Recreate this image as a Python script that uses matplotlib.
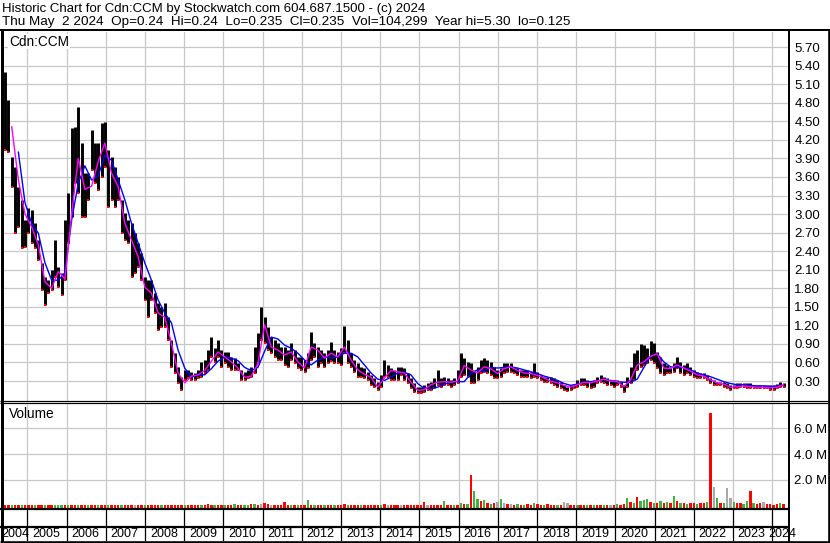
import matplotlib
matplotlib.use('Agg')
import matplotlib.pyplot as plt
import matplotlib.dates as mdates
from matplotlib.lines import Line2D
import pandas as pd

plt.rcParams['font.family'] = ['Liberation Sans', 'DejaVu Sans']

W, H = 830, 543

title1 = 'Historic Chart for Cdn:CCM by Stockwatch.com 604.687.1500 - (c) 2024'
title2 = 'Thu May  2 2024  Op=0.24  Hi=0.24  Lo=0.235  Cl=0.235  Vol=104,299  Year hi=5.30  lo=0.125'
symbol = 'Cdn:CCM'

# one bar per ~31 days
bar_start = '2004-06-07'
hi = [
    5.30, 4.85, 3.92, 3.76, 3.44, 3.23, 2.90, 3.10, 3.06, 2.85,
    2.58, 2.21, 1.98, 1.93, 2.09, 2.58, 2.14, 2.04, 2.90, 3.34,
    4.39, 4.41, 4.73, 4.15, 3.66, 3.66, 4.36, 4.15, 4.15, 4.47,
    4.49, 4.03, 3.92, 3.76, 3.60, 3.23, 3.02, 2.90, 2.85, 2.69,
    2.53, 2.37, 1.98, 1.93, 1.93, 1.72, 1.56, 1.50, 1.56, 1.33,
    0.96, 0.75, 0.53, 0.36, 0.48, 0.48, 0.45, 0.43, 0.48, 0.61,
    0.64, 0.80, 1.01, 0.83, 0.96, 0.80, 0.77, 0.77, 0.69, 0.67,
    0.59, 0.48, 0.45, 0.48, 0.53, 0.85, 1.08, 1.50, 1.33, 1.17,
    1.01, 0.96, 0.91, 0.85, 0.85, 0.80, 0.91, 0.80, 0.69, 0.69,
    0.64, 0.75, 1.09, 0.91, 0.85, 0.80, 0.75, 0.80, 0.93, 0.80,
    0.77, 0.83, 1.19, 0.96, 0.75, 0.64, 0.59, 0.53, 0.51, 0.45,
    0.40, 0.35, 0.28, 0.40, 0.64, 0.56, 0.51, 0.48, 0.53, 0.53,
    0.51, 0.43, 0.35, 0.27, 0.20, 0.20, 0.24, 0.27, 0.28, 0.35,
    0.48, 0.35, 0.36, 0.35, 0.32, 0.35, 0.48, 0.75, 0.67, 0.61,
    0.59, 0.48, 0.53, 0.64, 0.67, 0.64, 0.61, 0.53, 0.48, 0.51,
    0.59, 0.59, 0.59, 0.53, 0.51, 0.48, 0.48, 0.48, 0.45, 0.59,
    0.45, 0.40, 0.36, 0.36, 0.36, 0.35, 0.32, 0.28, 0.24, 0.20,
    0.24, 0.24, 0.32, 0.35, 0.35, 0.32, 0.28, 0.32, 0.36, 0.40,
    0.36, 0.35, 0.32, 0.32, 0.32, 0.28, 0.24, 0.36, 0.53, 0.75,
    0.80, 0.90, 0.88, 0.83, 0.95, 0.91, 0.77, 0.69, 0.59, 0.56,
    0.53, 0.59, 0.69, 0.61, 0.56, 0.59, 0.53, 0.48, 0.45, 0.43,
    0.43, 0.40, 0.35, 0.32, 0.28, 0.28, 0.28, 0.27, 0.24, 0.24,
    0.27, 0.27, 0.27, 0.27, 0.26, 0.24, 0.24, 0.24, 0.24, 0.24,
    0.24, 0.24, 0.25, 0.28, 0.27]
lo = [
    4.03, 4.00, 3.44, 2.69, 2.79, 2.45, 2.47, 2.69, 2.53, 2.45,
    2.26, 1.77, 1.53, 1.72, 1.77, 1.98, 1.82, 1.69, 1.93, 2.53,
    2.95, 3.50, 3.34, 2.95, 2.95, 3.23, 3.71, 3.50, 3.39, 3.60,
    3.76, 3.11, 3.23, 3.11, 3.23, 2.69, 2.58, 2.53, 1.98, 2.05,
    2.14, 1.93, 1.61, 1.33, 1.61, 1.40, 1.12, 1.17, 1.17, 0.96,
    0.53, 0.43, 0.27, 0.15, 0.32, 0.35, 0.32, 0.32, 0.35, 0.36,
    0.43, 0.48, 0.69, 0.61, 0.69, 0.53, 0.59, 0.53, 0.48, 0.48,
    0.48, 0.32, 0.32, 0.35, 0.36, 0.43, 0.59, 0.96, 0.91, 0.80,
    0.75, 0.69, 0.64, 0.64, 0.56, 0.53, 0.64, 0.59, 0.51, 0.48,
    0.45, 0.51, 0.64, 0.69, 0.53, 0.59, 0.53, 0.59, 0.63, 0.59,
    0.59, 0.56, 0.75, 0.59, 0.53, 0.45, 0.36, 0.36, 0.35, 0.32,
    0.24, 0.20, 0.15, 0.20, 0.36, 0.36, 0.32, 0.32, 0.32, 0.40,
    0.32, 0.27, 0.19, 0.12, 0.11, 0.11, 0.12, 0.15, 0.15, 0.19,
    0.24, 0.20, 0.24, 0.24, 0.20, 0.24, 0.27, 0.36, 0.40, 0.36,
    0.27, 0.27, 0.32, 0.43, 0.45, 0.43, 0.40, 0.35, 0.35, 0.36,
    0.43, 0.45, 0.45, 0.43, 0.40, 0.36, 0.36, 0.36, 0.35, 0.36,
    0.35, 0.32, 0.28, 0.28, 0.27, 0.24, 0.20, 0.19, 0.15, 0.14,
    0.15, 0.19, 0.20, 0.24, 0.24, 0.20, 0.19, 0.20, 0.27, 0.28,
    0.27, 0.24, 0.24, 0.20, 0.24, 0.20, 0.12, 0.20, 0.27, 0.32,
    0.48, 0.53, 0.56, 0.59, 0.64, 0.59, 0.51, 0.43, 0.40, 0.43,
    0.43, 0.45, 0.51, 0.43, 0.40, 0.43, 0.40, 0.36, 0.35, 0.35,
    0.35, 0.32, 0.27, 0.24, 0.24, 0.24, 0.20, 0.19, 0.15, 0.19,
    0.19, 0.20, 0.20, 0.19, 0.19, 0.19, 0.19, 0.19, 0.18, 0.18,
    0.15, 0.15, 0.19, 0.20, 0.20]

# magenta average, every second bar starting with the 3rd
ma_fast = [
    4.41, 3.55, 3.00, 2.79, 2.50, 1.90, 1.80, 2.07, 1.95, 3.00,
    3.90, 3.40, 3.45, 3.85, 4.15, 3.66, 3.44, 2.85, 2.58, 2.31,
    1.82, 1.72, 1.40, 1.33, 0.91, 0.43, 0.27, 0.38, 0.40,
    0.47, 0.62, 0.77, 0.69, 0.61, 0.51, 0.36, 0.38, 0.58, 1.21,
    0.85, 0.80, 0.72, 0.77, 0.61, 0.51, 0.85, 0.80, 0.67, 0.75,
    0.69, 0.85, 0.64, 0.48, 0.41, 0.36, 0.20, 0.35, 0.47, 0.45,
    0.43, 0.28, 0.15, 0.16, 0.24, 0.28, 0.29, 0.28, 0.30, 0.55,
    0.48, 0.43, 0.53,
    0.50, 0.42, 0.50, 0.53, 0.47, 0.43, 0.42, 0.39, 0.35, 0.30,
    0.27, 0.23, 0.20, 0.24, 0.28, 0.27, 0.30, 0.33, 0.30, 0.29,
    0.21, 0.32,
    0.56, 0.61, 0.70, 0.74, 0.51, 0.50, 0.56, 0.51, 0.46, 0.40,
    0.38, 0.32, 0.27, 0.25, 0.20, 0.21, 0.22, 0.21, 0.20, 0.20,
    0.19, 0.20, 0.24]
# blue average, every second bar starting with the 5th
ma_slow = [
    4.00, 3.18, 2.85, 2.69, 2.21, 1.93, 1.93, 2.05, 2.90, 3.50,
    3.78, 3.55, 3.62, 3.95, 3.87, 3.55, 3.23, 2.85, 2.53, 2.21,
    1.93, 1.61, 1.40, 1.24, 0.80, 0.51, 0.36, 0.40,
    0.40, 0.50, 0.62, 0.69, 0.67, 0.63, 0.52, 0.47, 0.52, 0.78,
    1.01, 0.98, 0.88, 0.83, 0.75, 0.64, 0.56, 0.64, 0.69, 0.67,
    0.69, 0.75, 0.75, 0.69, 0.56, 0.43, 0.33, 0.31, 0.36, 0.43,
    0.44, 0.40, 0.26, 0.18, 0.18, 0.20, 0.25, 0.28, 0.29, 0.29,
    0.42, 0.48, 0.46,
    0.52, 0.51, 0.52, 0.53, 0.51, 0.48, 0.45, 0.42, 0.38, 0.35,
    0.31, 0.26, 0.23, 0.25, 0.28, 0.29, 0.30, 0.32, 0.31, 0.29,
    0.28, 0.28,
    0.33, 0.52, 0.70, 0.74, 0.61, 0.53, 0.52, 0.52, 0.48, 0.43,
    0.40, 0.37, 0.33, 0.29, 0.26, 0.24, 0.24, 0.23, 0.22, 0.22,
    0.21, 0.22, 0.23]

# volume in millions, and r = down, g = up, y = unchanged
vol = [
    0.06, 0.05, 0.08, 0.05, 0.06, 0.04, 0.07, 0.05, 0.10, 0.06,
    0.05, 0.06, 0.05, 0.04, 0.05, 0.07, 0.06, 0.10, 0.08, 0.09,
    0.06, 0.05, 0.06, 0.05, 0.08, 0.04, 0.05, 0.09, 0.06, 0.07,
    0.05, 0.06, 0.05, 0.04, 0.06, 0.05, 0.04, 0.05, 0.06, 0.07,
    0.05, 0.04, 0.05, 0.06, 0.05, 0.05, 0.04, 0.05, 0.04, 0.05,
    0.06, 0.05, 0.04, 0.05, 0.06, 0.05, 0.04, 0.05, 0.05, 0.06,
    0.05, 0.12, 0.06, 0.05, 0.04, 0.06, 0.05, 0.06, 0.05, 0.12,
    0.05, 0.06, 0.08, 0.10, 0.15, 0.12, 0.10, 0.15, 0.25, 0.12,
    0.08, 0.06, 0.05, 0.06, 0.28, 0.10, 0.06, 0.05, 0.06, 0.05,
    0.05, 0.45, 0.10, 0.06, 0.05, 0.08, 0.06, 0.05, 0.06, 0.05,
    0.06, 0.08, 0.12, 0.06, 0.05, 0.05, 0.06, 0.05, 0.06, 0.05,
    0.05, 0.06, 0.05, 0.06, 0.18, 0.08, 0.06, 0.05, 0.05, 0.08,
    0.05, 0.06, 0.05, 0.06, 0.08, 0.06, 0.30, 0.10, 0.06, 0.05,
    0.08, 0.06, 0.40, 0.06, 0.08, 0.06, 0.10, 0.22, 0.15, 0.18,
    2.38, 1.18, 0.50, 0.35, 0.45, 0.25, 0.15, 0.20, 0.30, 0.54,
    0.20, 0.12, 0.15, 0.10, 0.12, 0.08, 0.10, 0.12, 0.08, 0.20,
    0.15, 0.10, 0.08, 0.12, 0.08, 0.10, 0.06, 0.08, 0.33, 0.20,
    0.10, 0.08, 0.10, 0.06, 0.08, 0.10, 0.06, 0.08, 0.05, 0.06,
    0.08, 0.06, 0.10, 0.08, 0.12, 0.10, 0.15, 0.59, 0.30, 0.25,
    0.72, 0.35, 0.45, 0.50, 0.30, 0.25, 0.20, 0.35, 0.20, 0.30,
    0.25, 0.77, 0.35, 0.25, 0.20, 0.15, 0.20, 0.25, 0.15, 0.20,
    0.25, 0.30, 7.15, 1.48, 0.60, 0.25, 0.20, 1.41, 0.60, 0.30,
    0.25, 0.20, 0.15, 0.40, 1.18, 0.25, 0.15, 0.20, 0.33, 0.15,
    0.12, 0.10, 0.15, 0.20, 0.12]
vol_dir = ('rrgrrgrrrg' 'rrgrrgggrg' 'rrgrrgrrgr' 'rgrrrgrrry' 'rrgrrrrgrr'
           'rrrrgrrrrg' 'rrrgrrgrrg' 'rrggrgryrr' 'yrrrrrgrgr' 'rgrgrrgrrg'
           'rrrgrrrgrr' 'rrrgryrrry' 'rrrrrrryrr' 'rrgrrgrgrg' 'rggrgrgryg'
           'yryrgrgrrg' 'rrgrrrgryy' 'rrgrrgrgrr' 'gryrgrrgrg' 'rgggrgrgrg'
           'rgrgrgrrgr' 'rgrygrgyyg' 'rrggrgrryr' 'rrrgr')

price_ticks = [0.30, 0.60, 0.90, 1.20, 1.50, 1.80, 2.10, 2.40, 2.70, 3.00,
               3.30, 3.60, 3.90, 4.20, 4.50, 4.80, 5.10, 5.40, 5.70]
vol_ticks = [2.0, 4.0, 6.0]
years = list(range(2004, 2025))

dates = pd.date_range(bar_start, periods=len(hi), freq='31D').to_pydatetime()
jan = [pd.Timestamp(f'{y}-01-01').to_pydatetime() for y in years[1:]]
x_left = pd.Timestamp('2004-05-28').to_pydatetime()
x_right = pd.Timestamp('2024-05-28').to_pydatetime()

GRID = '#c8c8c8'
FS = 9.5
dir_colors = {'r': '#ff0000', 'g': '#44b044', 'y': '#a8a8a8'}


def fx(px):
    return px / W


def fy(py):
    return 1 - py / H


def box(x0, y0, x1, y1):
    return [fx(x0), fy(y1), fx(x1) - fx(x0), fy(y0) - fy(y1)]


def fig_line(fig, x0, y0, x1, y1, lw):
    fig.add_artist(Line2D([fx(x0), fx(x1)], [fy(y0), fy(y1)], transform=fig.transFigure,
                          color='black', lw=lw * 0.72, solid_capstyle='butt'))


fig = plt.figure(figsize=(W / 100, H / 100), dpi=100)
fig.patch.set_facecolor('white')

fig.text(fx(2), fy(9), title1, fontsize=9.5, ha='left', va='center')
fig.text(fx(2), fy(22), title2, fontsize=9.7, ha='left', va='center')

# price panel
ax = fig.add_axes(box(4, 32, 788, 400.5))
ax.vlines(dates, lo, hi, color='black', lw=2.1, zorder=3)
ax.plot(dates, lo, 's', color='red', ms=1.6, mew=0, zorder=4)
ax.plot(dates[4::2], ma_slow, color='#0000ff', lw=1.0, zorder=5)
ax.plot(dates[2::2], ma_fast, color='#ff00ff', lw=1.0, zorder=6)
ax.set_xlim(x_left, x_right)
ax.set_ylim(-0.015, 5.944)
ax.set_xticks(jan)
ax.set_yticks(price_ticks)
ax.set_yticklabels([f'{v:.2f}' for v in price_ticks])
ax.yaxis.tick_right()
ax.tick_params(axis='y', length=0, pad=4.5, labelsize=FS)
ax.tick_params(axis='x', length=0, labelbottom=False)
ax.grid(True, color=GRID, lw=0.9)
ax.set_axisbelow(True)
for s in ax.spines.values():
    s.set_visible(False)
ax.text(5 / 784, 0.974, symbol, transform=ax.transAxes, fontsize=FS + 0.3, ha='left', va='center',
        bbox=dict(facecolor='white', edgecolor='none', pad=0.5), zorder=7)

# volume panel
vol_floor = -0.244
axv = fig.add_axes(box(4, 403, 788, 509))
axv.bar(dates, [v - vol_floor for v in vol], bottom=vol_floor, width=22,
        color=[dir_colors[c] for c in vol_dir], zorder=3)
axv.set_xlim(x_left, x_right)
axv.set_ylim(vol_floor, 7.957)
axv.set_xticks(jan)
axv.set_yticks(vol_ticks)
axv.set_yticklabels([f'{v:.1f} M' for v in vol_ticks])
axv.yaxis.tick_right()
axv.tick_params(axis='y', length=0, pad=4.5, labelsize=FS)
axv.tick_params(axis='x', length=0, labelbottom=False)
axv.grid(True, color=GRID, lw=0.9)
axv.set_axisbelow(True)
for s in axv.spines.values():
    s.set_visible(False)
axv.text(5 / 784, 0.90, 'Volume', transform=axv.transAxes, fontsize=FS + 0.3, ha='left', va='center')

# year strip
axy = fig.add_axes(box(4, 509, 788, 541))
axy.set_xlim(x_left, x_right)
axy.set_ylim(0, 1)
axy.vlines(jan, 0, 1, color='black', lw=0.9)
for y in years:
    if y == 2004:
        # first label starts right at the left border
        pos, ha = pd.Timestamp('2004-05-01'), 'left'
    elif y == 2024:
        pos, ha = pd.Timestamp('2024-04-01'), 'center'
    else:
        pos, ha = pd.Timestamp(f'{y}-06-25'), 'center'
    axy.text(mdates.date2num(pos.to_pydatetime()), 0.22, str(y), fontsize=9,
             ha=ha, va='center', clip_on=False)
axy.axis('off')

# frame
fig_line(fig, 0, 30, W, 30, 2)
fig_line(fig, 0, 400.8, W, 400.8, 1.2)
fig_line(fig, 0, 402.8, W, 402.8, 1.2)
fig_line(fig, 0, 509.2, 788, 509.2, 2.2)
fig_line(fig, 0, 526.8, 788, 526.8, 2.2)
fig_line(fig, 0, 541.6, W, 541.6, 2.6)
fig_line(fig, 1.5, 30, 1.5, H, 3)
fig_line(fig, 788.5, 30, 788.5, H, 2)
fig_line(fig, 828.5, 30, 828.5, H, 2.6)

fig.savefig('out.png', dpi=100, facecolor='white')
